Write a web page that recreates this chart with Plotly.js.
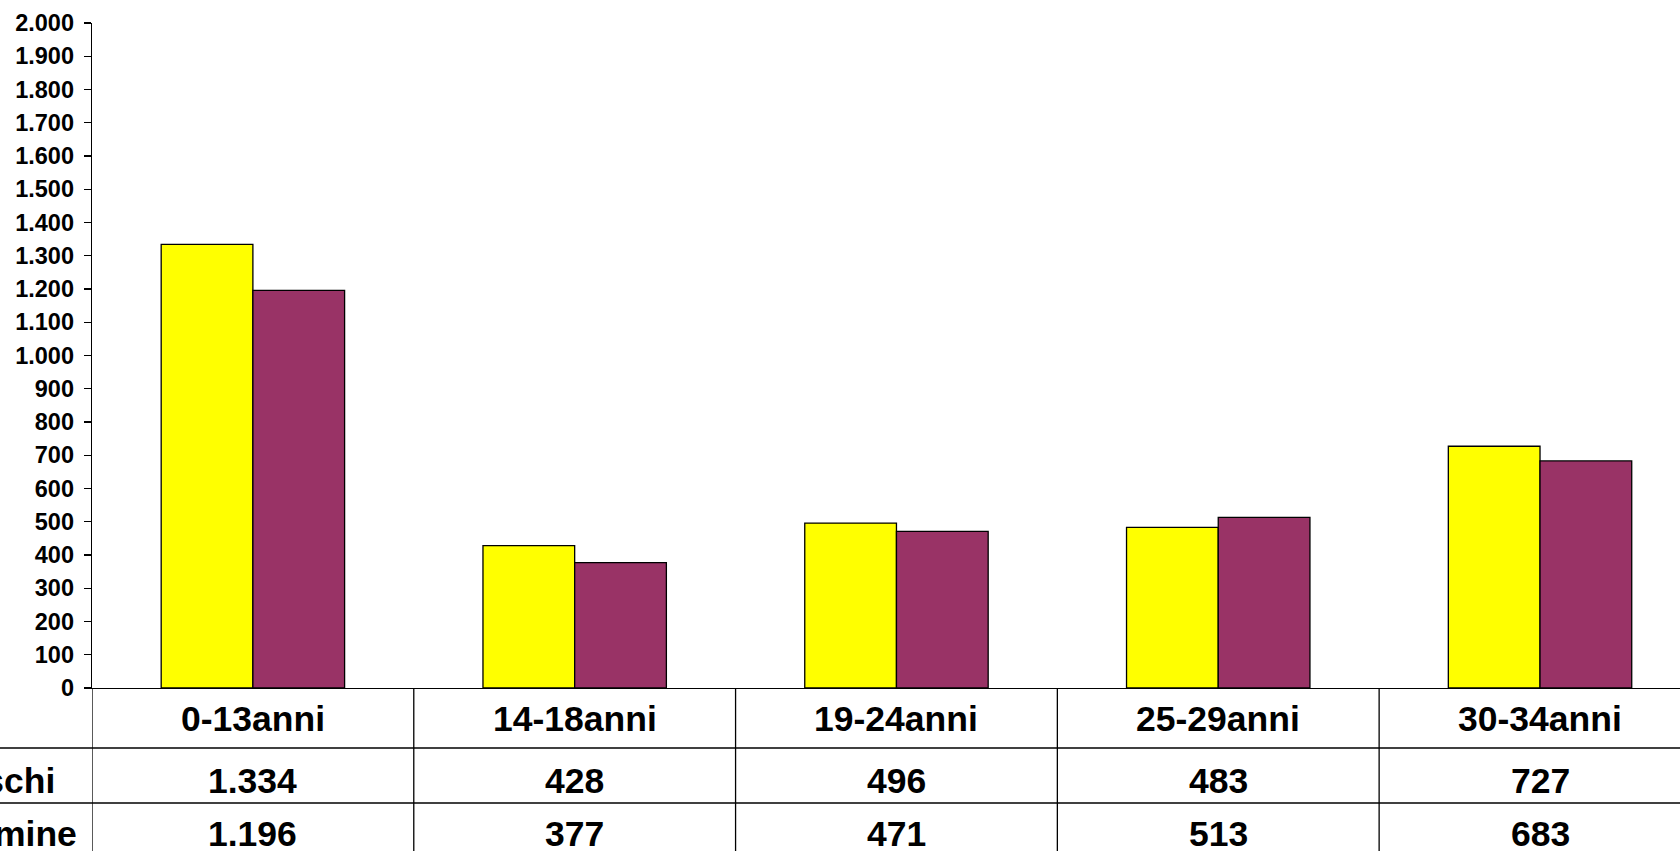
<!DOCTYPE html>
<html>
<head>
<meta charset="utf-8">
<script src="https://cdn.plot.ly/plotly-3.0.1.min.js"></script>
<style>
  html, body { margin: 0; padding: 0; background: #fff; overflow: hidden; }
  #chart { width: 1680px; height: 851px; }
</style>
</head>
<body>
<div id="chart"></div>
<script>
// ---- data ----
const categories = ["0-13anni", "14-18anni", "19-24anni", "25-29anni", "30-34anni"];
const seriesNames = ["Maschi", "Femmine"];
const maschi = [1334, 428, 496, 483, 727];
const femmine = [1196, 377, 471, 513, 683];

// ---- helpers ----
function fmt(v) {
  return String(v).replace(/\B(?=(\d{3})+(?!\d))/g, ".");
}
const W = 1680, H = 851;
const mL = 92, mR = 0, mT = 23, mB = 163;
const plotH = H - mT - mB;
function py(pixY) { return (H - mB - pixY) / plotH; }   // pixel y -> paper y
function px(pixX) { return (pixX - mL) / (W - mL - mR); } // pixel x -> paper x

const fontFam = "Liberation Sans, Arial, Helvetica, sans-serif";
const tableFont = { family: fontFam, size: 35.5, color: "#000", weight: "bold" };

const traces = [
  {
    type: "bar", name: seriesNames[0], x: categories, y: maschi,
    marker: { color: "#FFFF00", line: { color: "#000", width: 1.3 } },
    hoverinfo: "x+y"
  },
  {
    type: "bar", name: seriesNames[1], x: categories, y: femmine,
    marker: { color: "#993366", line: { color: "#000", width: 1.3 } },
    hoverinfo: "x+y"
  }
];

// ---- data table below the axis ----
const shapes = [];
const annotations = [];
const rowLineY = [py(748), py(803), py(858)];
const tableBottom = py(870);

// vertical separators between categories (and at axis)
for (let i = 0; i <= categories.length; i++) {
  shapes.push({
    type: "line", xref: "x", yref: "paper",
    x0: i - 0.5, x1: i - 0.5, y0: 0, y1: tableBottom,
    line: { color: "#000", width: 1.3 }
  });
}
// horizontal row lines
rowLineY.forEach(y => {
  shapes.push({
    type: "line", xref: "paper", yref: "paper",
    x0: px(0), x1: 1.02, y0: y, y1: y,
    line: { color: "#000", width: 1.3 }
  });
});

const headerY = py(719), row1Y = py(781), row2Y = py(834);
categories.forEach((c, i) => {
  annotations.push({ xref: "x", yref: "paper", x: i, y: headerY, text: c,
    showarrow: false, font: tableFont, xanchor: "center", yanchor: "middle" });
  annotations.push({ xref: "x", yref: "paper", x: i, y: row1Y, text: fmt(maschi[i]),
    showarrow: false, font: tableFont, xanchor: "center", yanchor: "middle" });
  annotations.push({ xref: "x", yref: "paper", x: i, y: row2Y, text: fmt(femmine[i]),
    showarrow: false, font: tableFont, xanchor: "center", yanchor: "middle" });
});
annotations.push({ xref: "paper", yref: "paper", x: px(57), y: row1Y, text: seriesNames[0],
  showarrow: false, font: tableFont, xanchor: "right", yanchor: "middle" });
annotations.push({ xref: "paper", yref: "paper", x: px(79), y: row2Y, text: seriesNames[1],
  showarrow: false, font: tableFont, xanchor: "right", yanchor: "middle" });

const layout = {
  width: W, height: H,
  margin: { l: mL, r: mR, t: mT, b: mB, pad: 0 },
  paper_bgcolor: "#fff", plot_bgcolor: "#fff",
  separators: ",.",
  showlegend: false,
  barmode: "group",
  bargap: 0.43,
  bargroupgap: 0,
  xaxis: {
    type: "category",
    range: [-0.5, 4.435],
    showticklabels: false,
    showgrid: false, zeroline: false,
    showline: true, linecolor: "#000", linewidth: 1.3,
    ticks: "", fixedrange: true
  },
  yaxis: {
    range: [0, 2000], dtick: 100, tick0: 0,
    tickformat: ",d",
    showgrid: false, zeroline: false,
    showline: true, linecolor: "#000", linewidth: 1.3,
    ticks: "outside", ticklen: 7, tickwidth: 1.3, tickcolor: "#000",
    ticklabelstandoff: 5,
    tickfont: { family: fontFam, size: 23.5, color: "#000", weight: "bold" },
    fixedrange: true
  },
  shapes: shapes,
  annotations: annotations
};

Plotly.newPlot("chart", traces, layout, { displayModeBar: false, staticPlot: true });
</script>
</body>
</html>
